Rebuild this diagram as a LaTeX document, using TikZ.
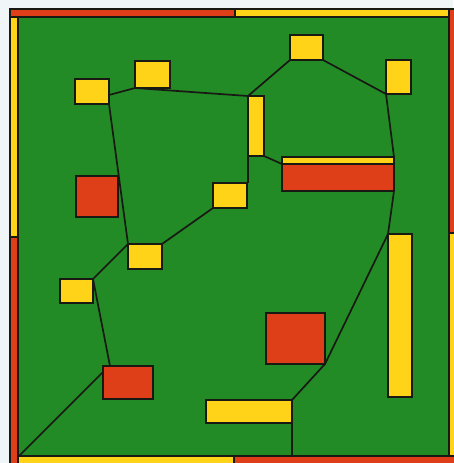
\documentclass[tikz,border=0pt]{standalone}
\definecolor{bgpale}{RGB}{240,245,248}
\definecolor{fieldgreen}{RGB}{34,139,38}
\definecolor{boxyellow}{RGB}{255,212,24}
\definecolor{boxred}{RGB}{222,62,24}
\definecolor{inkdark}{RGB}{25,25,20}
\tikzset{
  ybox/.style={draw=inkdark, line width=1.5pt, fill=boxyellow, inner sep=0pt, outer sep=0pt, rectangle},
  rbox/.style={draw=inkdark, line width=1.5pt, fill=boxred, inner sep=0pt, outer sep=0pt, rectangle},
  wire/.style={draw=inkdark, line width=1.7pt, line join=round},
  band/.style={draw=inkdark, line width=1.1pt}
}
\begin{document}
\begin{tikzpicture}[x=1pt,y=-1pt]
\useasboundingbox (0,0) rectangle (453,463);
\fill[bgpale] (0,0) rectangle (453,463);
% green field
\fill[fieldgreen] (18,17) rectangle (449,456);
% frame bands (pinwheel)
\filldraw[band, fill=boxred] (10,9) rectangle (235,17);
\filldraw[band, fill=boxyellow] (235,9) rectangle (449,17);
\filldraw[band, fill=boxred] (449,9) rectangle (458,233);
\filldraw[band, fill=boxyellow] (449,233) rectangle (458,456);
\filldraw[band, fill=boxyellow] (18,456) rectangle (234,465);
\filldraw[band, fill=boxred] (234,456) rectangle (458,465);
\filldraw[band, fill=boxyellow] (10,17) rectangle (18,237);
\filldraw[band, fill=boxred] (10,237) rectangle (18,465);
\draw[band] (18,17) rectangle (449,456);
% box positions
\path
  (92,91.5)    node[ybox, minimum width=34pt,  minimum height=25pt]  (A) {}
  (152.5,74.5) node[ybox, minimum width=35pt,  minimum height=27pt]  (B) {}
  (97,196.5)   node[rbox, minimum width=42pt,  minimum height=41pt]  (C) {}
  (230,195.5)  node[ybox, minimum width=34pt,  minimum height=25pt]  (D) {}
  (145,256.5)  node[ybox, minimum width=34pt,  minimum height=25pt]  (E) {}
  (76.5,291)   node[ybox, minimum width=33pt,  minimum height=24pt]  (F) {}
  (128,382.5)  node[rbox, minimum width=50pt,  minimum height=33pt]  (G) {}
  (306.5,47.5) node[ybox, minimum width=33pt,  minimum height=25pt]  (H) {}
  (398.5,77)   node[ybox, minimum width=25pt,  minimum height=34pt]  (I) {}
  (256,126)    node[ybox, minimum width=16pt,  minimum height=60pt]  (J) {}
  (338,160.5)  node[ybox, minimum width=112pt, minimum height=7pt]   (K) {}
  (338,177.5)  node[rbox, minimum width=112pt, minimum height=27pt]  (L) {}
  (295.5,338.5) node[rbox, minimum width=59pt, minimum height=51pt]  (M) {}
  (400,315.5)  node[ybox, minimum width=24pt,  minimum height=163pt] (N) {}
  (249,411.5)  node[ybox, minimum width=86pt,  minimum height=23pt]  (O) {};
\coordinate (bot) at (292,456);
\coordinate (corner) at (19,456);
% connectors
\draw[wire] ([yshift=-3.5pt]A.east) -- (B.south west) -- (J.north west) -- (H.south west);
\draw[wire] (H.south east) -- (I.south west) -- (K.north east) -- (L.south east)
  -- (N.north west) -- (M.south east) -- (O.north east) -- (bot);
\draw[wire] (A.south east) -- (E.north west) -- (F.north east) -- ([xshift=7pt]G.north west);
\draw[wire] ([yshift=-6pt]G.north west) -- (corner);
\draw[wire] (E.north east) -- (D.south west);
\draw[wire] (J.north west) -- (J.north west |- D.north east);
\draw[wire] (J.south east) -- (K.south west);
% boxes on top of connector ends
\path
  (92,91.5)    node[ybox, minimum width=34pt,  minimum height=25pt]  {}
  (152.5,74.5) node[ybox, minimum width=35pt,  minimum height=27pt]  {}
  (97,196.5)   node[rbox, minimum width=42pt,  minimum height=41pt]  {}
  (230,195.5)  node[ybox, minimum width=34pt,  minimum height=25pt]  {}
  (145,256.5)  node[ybox, minimum width=34pt,  minimum height=25pt]  {}
  (76.5,291)   node[ybox, minimum width=33pt,  minimum height=24pt]  {}
  (128,382.5)  node[rbox, minimum width=50pt,  minimum height=33pt]  {}
  (306.5,47.5) node[ybox, minimum width=33pt,  minimum height=25pt]  {}
  (398.5,77)   node[ybox, minimum width=25pt,  minimum height=34pt]  {}
  (256,126)    node[ybox, minimum width=16pt,  minimum height=60pt]  {}
  (338,160.5)  node[ybox, minimum width=112pt, minimum height=7pt]   {}
  (338,177.5)  node[rbox, minimum width=112pt, minimum height=27pt]  {}
  (295.5,338.5) node[rbox, minimum width=59pt, minimum height=51pt]  {}
  (400,315.5)  node[ybox, minimum width=24pt,  minimum height=163pt] {}
  (249,411.5)  node[ybox, minimum width=86pt,  minimum height=23pt]  {};
\end{tikzpicture}
\end{document}
